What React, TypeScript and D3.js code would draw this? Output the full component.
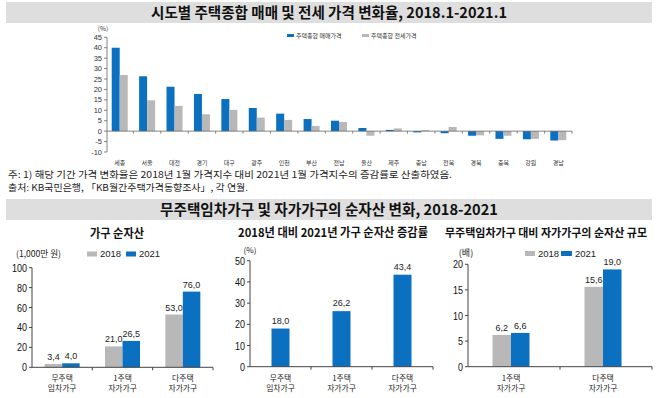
import React from 'react';
import * as d3 from 'd3';

const regions = ['세종','서울','대전','경기','대구','광주','인천','부산','전남','울산','제주','충남','전북','경북','충북','강원','경남'];
const saleChange = [40.0, 26.3, 21.3, 17.8, 15.4, 11.1, 8.4, 5.8, 5.0, 1.5, 0.6, -0.6, -1.0, -2.2, -3.7, -3.9, -4.5];
const jeonseChange = [26.9, 14.8, 12.1, 8.1, 10.2, 6.5, 5.4, 2.5, 4.4, -2.2, 1.3, 0.5, 2.0, -2.0, -2.2, -3.7, -4.3];
const topTicks = [-10, -5, 0, 5, 10, 15, 20, 25, 30, 35, 40, 45];

const householdCats = ['무주택|임차가구', '1주택|자가가구', '다주택|자가가구'];
const netAsset2018 = [3.4, 21.0, 53.0];
const netAsset2021 = [4.0, 26.5, 76.0];
const netAssetTicks = [0, 20, 40, 60, 80, 100];

const growthRate = [18.0, 26.2, 43.4];
const growthTicks = [0, 10, 20, 30, 40, 50];

const ratioCats = ['1주택|자가가구', '다주택|자가가구'];
const ratio2018 = [6.2, 15.6];
const ratio2021 = [6.6, 19.0];
const ratioTicks = [0, 5, 10, 15, 20];

const BLUE = '#0B70C0';
const GRAY = '#B8B8B8';
const KR = "'Noto Sans CJK KR', 'Noto Sans', sans-serif";
const NUM = "'Liberation Sans Narrow', 'Liberation Sans', Arial, sans-serif";

function CatLabel({ x, y, text }: { x: number; y: number; text: string }) {
  const parts = text.split('|');
  return (
    <g>
      {parts.map((p, i) => (
        <text key={i} x={x} y={y + i * 9.5} textAnchor="middle" fontFamily={KR} fontSize={7.8} fill="#222">{p}</text>
      ))}
    </g>
  );
}

function YAxis({ x, y, ticks, fontSize }: { x: number; y: d3.ScaleLinear<number, number>; ticks: number[]; fontSize: number }) {
  const [r0, r1] = y.range();
  return (
    <g>
      <line x1={x} x2={x} y1={r0} y2={r1} stroke="#444" strokeWidth={1} />
      {ticks.map(t => (
        <g key={t}>
          <line x1={x - 3} x2={x} y1={y(t)} y2={y(t)} stroke="#444" />
          <text x={x - 5} y={y(t)} dy="0.35em" textAnchor="end" fontFamily={NUM} fontSize={fontSize} fill="#111"
            textLength={String(t).length * 5} lengthAdjust="spacingAndGlyphs">{t}</text>
        </g>
      ))}
    </g>
  );
}

export default function App() {
  const xTop = d3.scaleBand<string>().domain(regions).range([106, 572]).padding(0);
  const yTop = d3.scaleLinear().domain([-10, 45]).range([152, 37.3]);
  const bwTop = 8;

  const x1 = d3.scaleBand<string>().domain(householdCats).range([32, 213]);
  const y1 = d3.scaleLinear().domain([0, 100]).range([367.3, 267.7]);
  const bw1 = 17.5;

  const x2 = d3.scaleBand<string>().domain(householdCats).range([250, 433]);
  const y2 = d3.scaleLinear().domain([0, 50]).range([366.7, 260.7]);
  const bw2 = 18;

  const x3 = d3.scaleBand<string>().domain(ratioCats).range([468, 652]);
  const y3 = d3.scaleLinear().domain([0, 20]).range([366.7, 264.3]);
  const bw3 = 18.5;

  const fmt = (v: number) => v.toFixed(1).replace('.', ',');

  return (
    <svg width={658} height={398} style={{ position: 'absolute', left: 0, top: 0, background: '#fff' }}>
      <rect x={6} y={2} width={646} height={21} fill="#DEDEDE" />
      <text x={329} y={13} dy="0.36em" textAnchor="middle" fontFamily={KR} fontWeight={700} fontSize={15} fill="#111"
        textLength={356} lengthAdjust="spacingAndGlyphs">시도별 주택종합 매매 및 전세 가격 변화율, 2018.1-2021.1</text>

      {/* Top chart */}
      <text x={103} y={31} textAnchor="middle" fontFamily={KR} fontSize={6.5} fill="#333">(%)</text>
      <line x1={107} x2={107} y1={yTop(45)} y2={yTop(-10)} stroke="#666" strokeWidth={0.8} />
      {topTicks.map(t => (
        <g key={t}>
          <line x1={104} x2={107} y1={yTop(t)} y2={yTop(t)} stroke="#666" strokeWidth={0.8} />
          <text x={102} y={yTop(t)} dy="0.35em" textAnchor="end" fontFamily={NUM} fontSize={7.5} fill="#333">{t}</text>
        </g>
      ))}
      {regions.map((r, i) => {
        const c = (xTop(r) as number) + xTop.bandwidth() / 2;
        return (
          <g key={r}>
            <rect x={c - bwTop} width={bwTop} y={Math.min(yTop(saleChange[i]), yTop(0))} height={Math.abs(yTop(saleChange[i]) - yTop(0))} fill={BLUE} />
            <rect x={c} width={bwTop} y={Math.min(yTop(jeonseChange[i]), yTop(0))} height={Math.abs(yTop(jeonseChange[i]) - yTop(0))} fill={GRAY} />
            <text x={c} y={163} dy="0.35em" textAnchor="middle" fontFamily={KR} fontSize={6} fill="#333">{r}</text>
          </g>
        );
      })}
      <line x1={107} x2={572} y1={yTop(0)} y2={yTop(0)} stroke="#666" strokeWidth={0.8} />
      {regions.map((r, i) => {
        const b = (xTop(r) as number) + xTop.bandwidth();
        return <line key={'t' + i} x1={b} x2={b} y1={yTop(0)} y2={yTop(0) + 2.5} stroke="#666" strokeWidth={0.8} />;
      })}
      <rect x={287} y={34} width={7} height={3} fill={BLUE} />
      <text x={296} y={35.5} dy="0.35em" fontFamily={KR} fontSize={6} fill="#333">주택종합 매매가격</text>
      <rect x={362} y={34} width={7} height={3} fill={GRAY} />
      <text x={371} y={35.5} dy="0.35em" fontFamily={KR} fontSize={6} fill="#333">주택종합 전세가격</text>

      {/* Notes */}
      <text x={8} y={175} dy="0.35em" fontFamily={KR} fontSize={9.5} fill="#222" textLength={444} lengthAdjust="spacingAndGlyphs">주: 1) 해당 기간 가격 변화율은 2018년 1월 가격지수 대비 2021년 1월 가격지수의 증감률로 산출하였음.</text>
      <text x={8} y={188} dy="0.35em" fontFamily={KR} fontSize={9.5} fill="#222" textLength={240} lengthAdjust="spacingAndGlyphs">출처: KB국민은행, 「KB월간주택가격동향조사」, 각 연월.</text>

      <rect x={6} y={199} width={646} height={21} fill="#DEDEDE" />
      <text x={329} y={210} dy="0.36em" textAnchor="middle" fontFamily={KR} fontWeight={700} fontSize={15} fill="#111"
        textLength={338} lengthAdjust="spacingAndGlyphs">무주택임차가구 및 자가가구의 순자산 변화, 2018-2021</text>

      {/* Panel 1 */}
      <text x={117} y={233} dy="0.36em" textAnchor="middle" fontFamily={KR} fontWeight={700} fontSize={12.5} fill="#111"
        textLength={54} lengthAdjust="spacingAndGlyphs">가구 순자산</text>
      <text x={16} y={254} dy="0.35em" fontFamily={KR} fontSize={9} fill="#222" textLength={45} lengthAdjust="spacingAndGlyphs">(1,000만 원)</text>
      <rect x={87} y={251.5} width={10} height={5} fill={GRAY} />
      <text x={100} y={254} dy="0.35em" fontFamily={NUM} fontSize={9.5} fill="#222">2018</text>
      <rect x={126} y={251.5} width={10} height={5} fill={BLUE} />
      <text x={139} y={254} dy="0.35em" fontFamily={NUM} fontSize={9.5} fill="#222">2021</text>
      {householdCats.map((c, i) => {
        const cx = (x1(c) as number) + x1.bandwidth() / 2;
        const edge = (x1(c) as number) + x1.bandwidth();
        return (
          <g key={c}>
            <rect x={cx - bw1} width={bw1} y={y1(netAsset2018[i])} height={y1(0) - y1(netAsset2018[i])} fill={GRAY} />
            <rect x={cx} width={bw1} y={y1(netAsset2021[i])} height={y1(0) - y1(netAsset2021[i])} fill={BLUE} />
            <text x={cx - bw1 / 2} y={y1(netAsset2018[i]) - 4} textAnchor="middle" fontFamily={NUM} fontSize={9} fill="#222">{fmt(netAsset2018[i])}</text>
            <text x={cx + bw1 / 2} y={y1(netAsset2021[i]) - 4} textAnchor="middle" fontFamily={NUM} fontSize={9} fill="#222">{fmt(netAsset2021[i])}</text>
            <CatLabel x={cx} y={381} text={c} />
            <line x1={edge} x2={edge} y1={y1(0)} y2={y1(0) + 3} stroke="#444" />
          </g>
        );
      })}
      <line x1={32} x2={213} y1={y1(0)} y2={y1(0)} stroke="#444" />
      <YAxis x={32} y={y1} ticks={netAssetTicks} fontSize={11.5} />

      {/* Panel 2 */}
      <text x={333} y={233} dy="0.36em" textAnchor="middle" fontFamily={KR} fontWeight={700} fontSize={12} fill="#111"
        textLength={190} lengthAdjust="spacingAndGlyphs">2018년 대비 2021년 가구 순자산 증감률</text>
      <text x={250} y={250} dy="0.35em" textAnchor="middle" fontFamily={KR} fontSize={8} fill="#222">(%)</text>
      {householdCats.map((c, i) => {
        const cx = (x2(c) as number) + x2.bandwidth() / 2;
        const edge = (x2(c) as number) + x2.bandwidth();
        return (
          <g key={c}>
            <rect x={cx - bw2 / 2} width={bw2} y={y2(growthRate[i])} height={y2(0) - y2(growthRate[i])} fill={BLUE} />
            <text x={cx} y={y2(growthRate[i]) - 5} textAnchor="middle" fontFamily={NUM} fontSize={9} fill="#222">{fmt(growthRate[i])}</text>
            <CatLabel x={cx} y={381} text={c} />
            <line x1={edge} x2={edge} y1={y2(0)} y2={y2(0) + 3} stroke="#444" />
          </g>
        );
      })}
      <line x1={250} x2={433} y1={y2(0)} y2={y2(0)} stroke="#444" />
      <YAxis x={250} y={y2} ticks={growthTicks} fontSize={11.5} />

      {/* Panel 3 */}
      <text x={546} y={233} dy="0.36em" textAnchor="middle" fontFamily={KR} fontWeight={700} fontSize={11} fill="#111"
        textLength={202} lengthAdjust="spacingAndGlyphs">무주택임차가구 대비 자가가구의 순자산 규모</text>
      <text x={466} y={253} dy="0.35em" textAnchor="middle" fontFamily={KR} fontSize={9} fill="#222">(배)</text>
      <rect x={525} y={251} width={10} height={5} fill={GRAY} />
      <text x={538} y={253.5} dy="0.35em" fontFamily={NUM} fontSize={9.5} fill="#222">2018</text>
      <rect x={561} y={251} width={11} height={5} fill={BLUE} />
      <text x={575} y={253.5} dy="0.35em" fontFamily={NUM} fontSize={9.5} fill="#222">2021</text>
      {ratioCats.map((c, i) => {
        const cx = (x3(c) as number) + x3.bandwidth() / 2 - 3;
        const edge = (x3(c) as number) + x3.bandwidth();
        return (
          <g key={c}>
            <rect x={cx - bw3} width={bw3} y={y3(ratio2018[i])} height={y3(0) - y3(ratio2018[i])} fill={GRAY} />
            <rect x={cx} width={bw3} y={y3(ratio2021[i])} height={y3(0) - y3(ratio2021[i])} fill={BLUE} />
            <text x={cx - bw3 / 2} y={y3(ratio2018[i]) - 4} textAnchor="middle" fontFamily={NUM} fontSize={9} fill="#222">{fmt(ratio2018[i])}</text>
            <text x={cx + bw3 / 2} y={y3(ratio2021[i]) - 4} textAnchor="middle" fontFamily={NUM} fontSize={9} fill="#222">{fmt(ratio2021[i])}</text>
            <CatLabel x={cx} y={381} text={c} />
            <line x1={edge} x2={edge} y1={y3(0)} y2={y3(0) + 3} stroke="#444" />
          </g>
        );
      })}
      <line x1={468} x2={652} y1={y3(0)} y2={y3(0)} stroke="#444" />
      <YAxis x={468} y={y3} ticks={ratioTicks} fontSize={11.5} />
    </svg>
  );
}
